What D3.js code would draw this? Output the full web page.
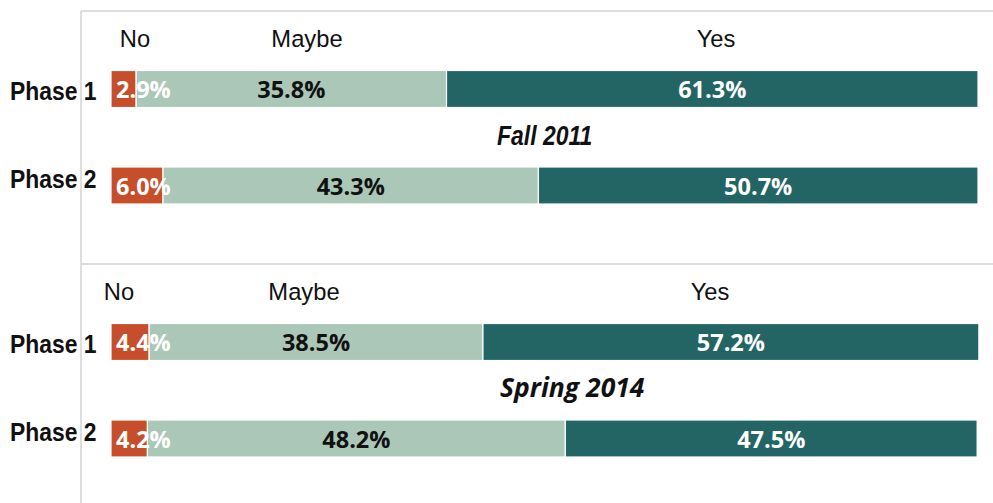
<!DOCTYPE html>
<html>
<head>
<meta charset="utf-8">
<script src="https://cdn.jsdelivr.net/npm/d3@7"></script>
<style>
  body { margin: 0; background: #fff; }
  .arial { font-family: "Liberation Sans", Arial, sans-serif; }
  .val { font-family: "Open Sans", "Noto Sans", sans-serif; font-weight: 700; font-size: 23.5px; }
</style>
</head>
<body>
<div id="main"></div>
<script>
// data
var panels = ["Fall 2011", "Spring 2014"];
var phases = ["Phase 1", "Phase 2"];
var categories = ["No", "Maybe", "Yes"];

var fallNo = [2.9, 6.0],
    fallMaybe = [35.8, 43.3],
    fallYes = [61.3, 50.7];
var springNo = [4.4, 4.2],
    springMaybe = [38.5, 48.2],
    springYes = [57.2, 47.5];

var panelValues = [[fallNo, fallMaybe, fallYes], [springNo, springMaybe, springYes]];

// layout: where the column headers sit in each panel
var headerX = [[135, 307, 716], [119, 304, 710]];

// colours
var color = d3.scaleOrdinal()
    .domain(categories)
    .range(["#c64e2b", "#abc7b8", "#236565"]);
var textColor = d3.scaleOrdinal()
    .domain(categories)
    .range(["#fff", "#111", "#fff"]);

var width = 993, height = 503;

var svg = d3.select("#main").append("svg")
    .attr("width", width)
    .attr("height", height);

// scales
var x = d3.scaleLinear().domain([0, 100]).range([111, 978]);
var panelY = d3.scalePoint().domain(panels).range([11, 264]);
var phaseY = d3.scalePoint().domain(phases).range([78, 174.5]);
var phaseLabelY = d3.scalePoint().domain(phases).range([89, 176.5]);
var barH = 37;

// squashed text, stands in for Arial Narrow
function narrowAt(px, py, k) {
    return "translate(" + px + "," + py + ") scale(" + k + ",1)";
}

// frame lines
svg.append("line")
    .attr("x1", 81).attr("x2", 81).attr("y1", 11).attr("y2", height)
    .attr("stroke", "#d3d3d3").attr("stroke-width", 1.5);

panels.forEach(function(p, pi) {
    var top = panelY(p);
    var vals = panelValues[pi];

    svg.append("line")
        .attr("x1", 81).attr("x2", width).attr("y1", top).attr("y2", top)
        .attr("stroke", "#d3d3d3").attr("stroke-width", 1.5);

    // stack the rows
    var rows = phases.map(function(ph, i) {
        var row = {phase: ph};
        categories.forEach(function(c, ci) { row[c] = vals[ci][i]; });
        return row;
    });
    var series = d3.stack().keys(categories)(rows);

    var g = svg.append("g").attr("class", "panel");

    // header labels
    g.selectAll(".head")
        .data(categories)
        .enter().append("text")
        .attr("class", "arial")
        .attr("transform", function(c, i) { return narrowAt(headerX[pi][i], top + 35.5, 0.97); })
        .attr("text-anchor", "middle")
        .style("font-size", "24.5px")
        .attr("fill", "#111")
        .text(function(c) { return c; });

    // phase labels
    g.selectAll(".phase")
        .data(phases)
        .enter().append("text")
        .attr("class", "arial")
        .attr("transform", function(d) { return narrowAt(10, top + phaseLabelY(d), 0.88); })
        .style("font-size", "26px")
        .style("font-weight", "bold")
        .attr("fill", "#111")
        .text(function(d) { return d; });

    // bars
    series.forEach(function(s) {
        g.selectAll(".bar-" + s.key)
            .data(s)
            .enter().append("rect")
            .attr("x", function(d) { return x(d[0]); })
            .attr("width", function(d) { return x(d[1]) - x(d[0]); })
            .attr("y", function(d) { return top + phaseY(d.data.phase) - barH / 2; })
            .attr("height", barH)
            .attr("fill", color(s.key))
            .attr("stroke", "#fff")
            .attr("stroke-width", 1.2);
    });

    // value labels
    series.forEach(function(s) {
        g.selectAll(".lab-" + s.key)
            .data(s)
            .enter().append("text")
            .attr("class", "val")
            .attr("x", function(d) { return s.key === "No" ? x(d[0]) + 5 : x((d[0] + d[1]) / 2); })
            .attr("y", function(d) { return top + phaseY(d.data.phase) + 1; })
            .attr("dy", ".36em")
            .attr("text-anchor", s.key === "No" ? "start" : "middle")
            .attr("fill", textColor(s.key))
            .text(function(d) { return (d[1] - d[0]).toFixed(1) + "%"; });
    });

    // panel title
    var title = g.append("text")
        .style("font-weight", "bold")
        .style("font-style", "italic")
        .attr("fill", "#111")
        .text(p);
    if (pi === 0) {
        title.attr("class", "arial")
            .attr("transform", narrowAt(497, top + 133.5, 0.82))
            .style("font-size", "28px");
    } else {
        title.attr("font-family", "'Open Sans', 'Noto Sans', sans-serif")
            .attr("transform", narrowAt(500, top + 133, 1))
            .style("font-size", "26.5px");
    }
});
</script>
</body>
</html>
